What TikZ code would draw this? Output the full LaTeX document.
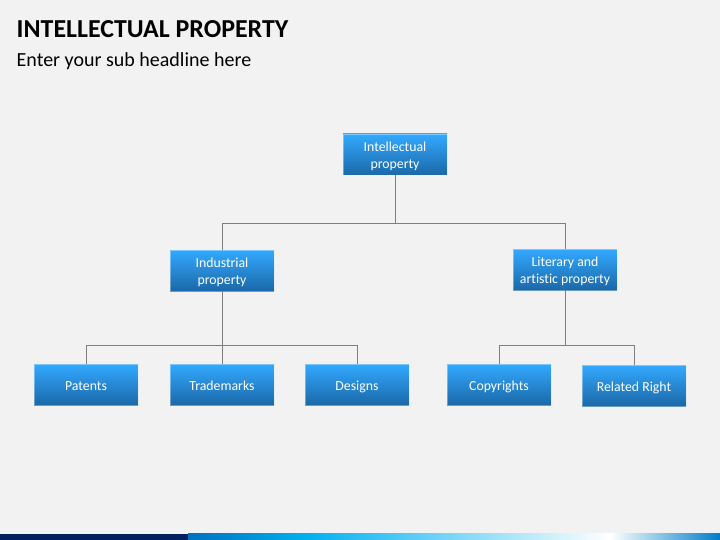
\documentclass[tikz,border=0pt]{standalone}
\usepackage{fontspec}
\setmainfont{Carlito}[Ligatures=NoCommon]
\definecolor{pagebg}{HTML}{F2F2F2}
\definecolor{boxtop}{HTML}{33A9FF}
\definecolor{boxbottom}{HTML}{1B68A8}
\definecolor{linegray}{HTML}{7F7F7F}
\definecolor{barnavy}{HTML}{002060}
\definecolor{barblue}{HTML}{0070C0}
\definecolor{barsky}{HTML}{00B0F0}
\newcommand{\boxline}[1]{\raisebox{-2pt}[\height][\depth]{#1}}
\tikzset{
  boxnode/.style={minimum width=104pt,minimum height=41pt,inner sep=0pt,align=center,
    text=white,font=\fontsize{13.8}{17}\selectfont,top color=boxtop,bottom color=boxbottom,
    draw=white,draw opacity=0.35,line width=0.5pt},
  oneline/.style={execute at begin node={\rule{0pt}{14pt}},execute at end node={\rule[-2pt]{0pt}{2pt}}},
  conn/.style={draw=linegray,line width=0.75pt}
}
\begin{document}
\begin{tikzpicture}[x=1pt,y=-1pt]
\fill[pagebg] (0,0) rectangle (720,540);
\useasboundingbox (0,0) rectangle (720,540);
% title
\node[anchor=west,inner sep=0pt,font=\fontsize{25.9}{30}\selectfont\bfseries] (title) at (16.5,29.5) {INTELLECTUAL PROPERTY};
\node[anchor=west,inner sep=0pt,font=\fontsize{20}{24}\selectfont] (subtitle) at (16.5,61.5) {Enter your sub headline here};
% bottom bar
\fill[barnavy] (0,533.5) rectangle (188,540);
\shade[left color=barblue,right color=barsky] (188,533.5) rectangle (305,540);
\shade[left color=barsky,right color=white] (305,533.5) rectangle (610,540);
\shade[left color=white,right color=barblue!80!barsky] (610,533.5) rectangle (720,540);
% boxes
\node[boxnode] (intellectual) at (395,154.5) {\boxline{Intellectual}\\\boxline{property}};
\node[boxnode] (industrial) at (222,270.5) {\boxline{Industrial}\\\boxline{property}};
\node[boxnode] (literary) at (565,269.5) {\boxline{Literary and}\\\boxline{artistic property}};
\node[boxnode,oneline] (patents) at (86,384.5) {Patents};
\node[boxnode,oneline] (trademarks) at (222,384.5) {Trademarks};
\node[boxnode,oneline] (designs) at (357,384.5) {Designs};
\node[boxnode,oneline] (copyrights) at (499,384.5) {Copyrights};
\node[boxnode,oneline] (related) at (634,385.5) {Related Right};
% connectors
\coordinate (topbus) at (395,223.5);
\coordinate (leftbus) at (222,345);
\coordinate (rightbus) at (565,345);
\draw[conn] (intellectual) -- (topbus);
\draw[conn] (topbus) -| (industrial);
\draw[conn] (topbus) -| (literary);
\draw[conn] (industrial) -- (trademarks);
\draw[conn] (leftbus) -| (patents);
\draw[conn] (leftbus) -| (designs);
\draw[conn] (literary) -- (rightbus);
\draw[conn] (rightbus) -| (copyrights);
\draw[conn] (rightbus) -| (related);
\end{tikzpicture}
\end{document}
